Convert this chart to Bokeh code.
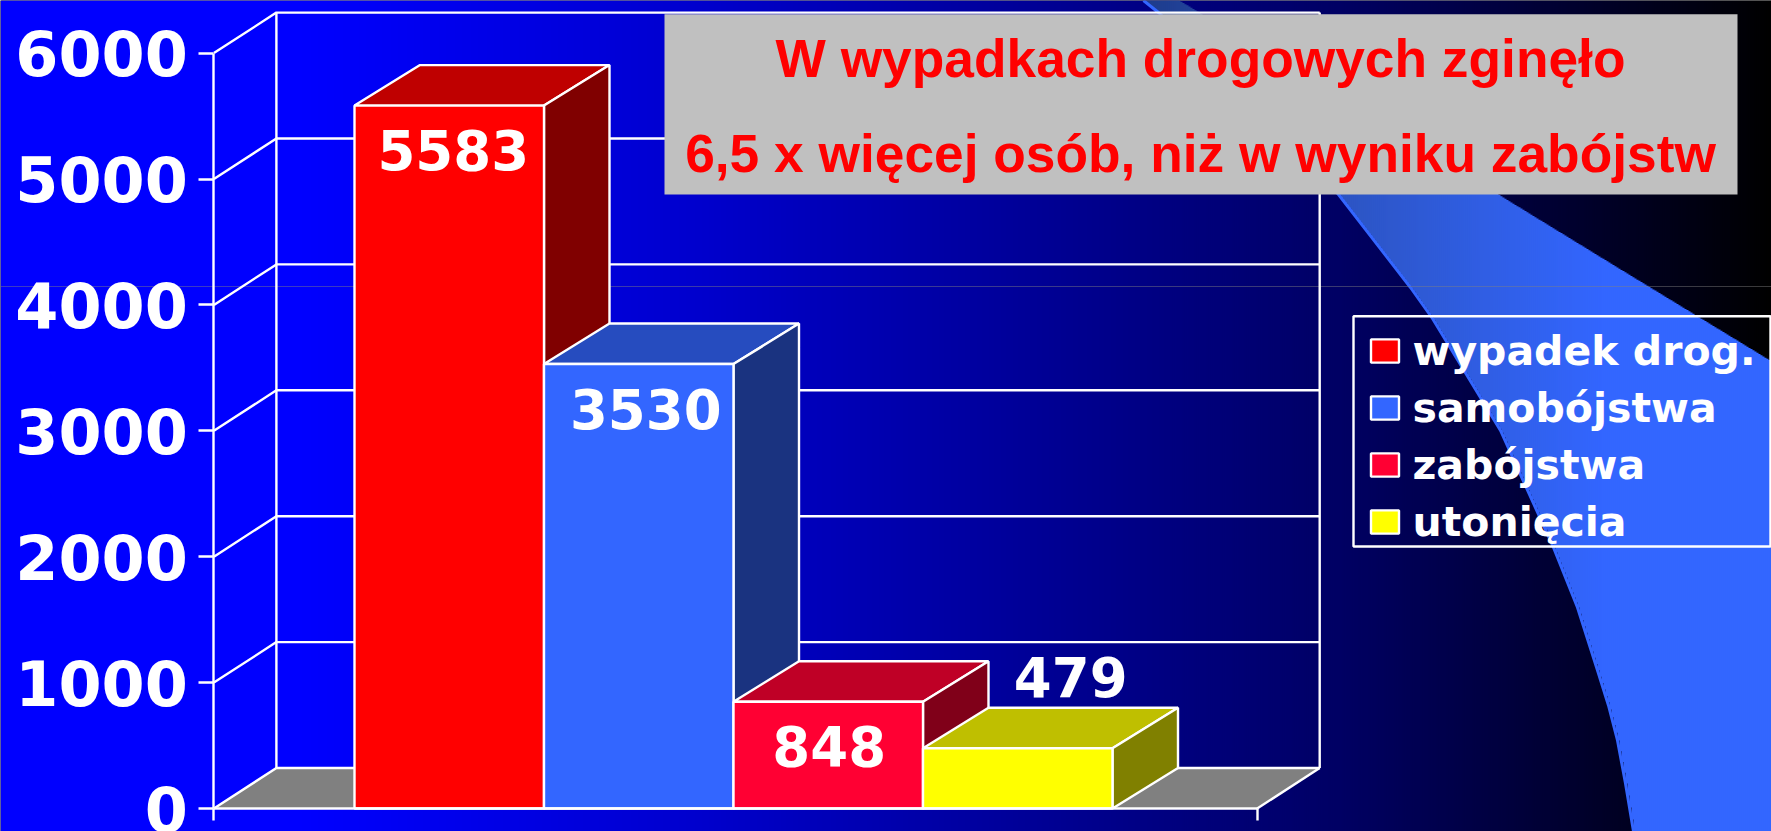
from bokeh.plotting import figure
from bokeh.embed import file_html
from bokeh.resources import INLINE
from bokeh.models import Range1d, FixedTicker, Legend, LegendItem, ColumnDataSource
from bokeh.core.properties import value
import numpy as np

# ---- data
categories = ["wypadek drog.", "samobójstwa", "zabójstwa", "utonięcia"]
deaths = [5583, 3530, 848, 479]
y_ticks = [0, 1000, 2000, 3000, 4000, 5000, 6000]
title_lines = ["W wypadkach drogowych zginęło", "6,5 x więcej osób, niż w wyniku zabójstw"]

front_colors = ["#FF0000", "#3366FF", "#FF0033", "#FFFF00"]
top_colors = ["#BF0000", "#264CBF", "#BF0026", "#BFBF00"]
side_colors = ["#800000", "#1A3380", "#800019", "#808000"]

# ---- page geometry (picture pixels)
PAGE_W, PAGE_H = 1771, 831
FIG_W, FIG_H = PAGE_W, PAGE_H
X0_PX, BAR_PX = 354.0, 189.5          # left of first bar, width of one bar
Y0_PX, UNIT_PX = 808.0, 0.1259        # baseline and pixels per death
DEPTH_X = 65.5 / BAR_PX               # 3-D depth of the bars, in axis units
WALL_X = 62.5 / BAR_PX                # 3-D depth of the walls
DEPTH_Y = 40.5 / UNIT_PX

AX_L = (213.4 - X0_PX) / BAR_PX
AX_R = (1256.7 - X0_PX) / BAR_PX

x_range = Range1d(-X0_PX / BAR_PX, (PAGE_W - X0_PX) / BAR_PX)
y_range = Range1d((Y0_PX - FIG_H) / UNIT_PX, Y0_PX / UNIT_PX)

p = figure(width=FIG_W, height=FIG_H, output_backend="svg", toolbar_location=None,
           x_range=x_range, y_range=y_range, min_border=0,
           background_fill_color="#000000", border_fill_color="#000000")
p.grid.visible = False
p.outline_line_color = None
p.extra_x_ranges["px"] = Range1d(0, PAGE_W)
p.extra_y_ranges["px"] = Range1d(FIG_H, 0)
PX = dict(x_range_name="px", y_range_name="px")

# ---- slide background: horizontal blue -> black gradient
STEP = 2
bg_x = np.arange(0, PAGE_W + STEP, STEP)
bg_blue = np.interp(bg_x, [0, 300, 700, 1340, 1600, 1771], [255, 255, 205, 100, 40, 0]).astype(int)
p.quad(left=bg_x, right=bg_x + STEP + 1, top=0, bottom=PAGE_H + 10,
       fill_color=[f"#0000{b:02X}" for b in bg_blue], line_color=None, **PX)

# ---- swoosh decoration
edge_lx = [1143, 1158, 1250, 1338, 1410, 1432, 1500, 1553, 1577, 1598, 1608, 1617, 1625, 1633, 1771]
edge_ly = [0, 12, 100, 194, 287, 318, 430, 547, 607, 673, 705, 740, 783, 831, 1500]
edge_rx = [1177, 1496, 1620, 1771]
edge_ry = [0, 194, 270, 362]
sw_x = np.arange(1143, PAGE_W, STEP)
sw_top = np.interp(sw_x, edge_rx, edge_ry)
sw_bot = np.interp(sw_x, edge_lx, edge_ly)
sw_r = np.interp(sw_x, [1143, 1340, 1600, 1771], [30, 45, 51, 51]).astype(int)
sw_g = np.interp(sw_x, [1143, 1340, 1600, 1771], [60, 85, 102, 102]).astype(int)
sw_b = np.interp(sw_x, [1143, 1340, 1600, 1771], [140, 195, 255, 255]).astype(int)
p.quad(left=sw_x, right=sw_x + STEP + 1, top=sw_top, bottom=sw_bot,
       fill_color=[f"#{r:02X}{g:02X}{b:02X}" for r, g, b in zip(sw_r, sw_g, sw_b)],
       line_color=None, **PX)
p.line(edge_lx[:-1], edge_ly[:-1], line_color="#3366FF", line_width=3, **PX)
# faint slide rule
p.line([0, PAGE_W], [286, 286], line_color="#808080", line_alpha=0.45, line_width=1, **PX)

# ---- 3-D walls
LW = 2.4
p.patch([AX_L, AX_L + WALL_X, AX_R + WALL_X, AX_R], [0, DEPTH_Y, DEPTH_Y, 0],
        fill_color="#808080", line_color=None)
grid_xs, grid_ys = [], []
for t in y_ticks:
    grid_xs.append([AX_L, AX_L + WALL_X, AX_R + WALL_X])
    grid_ys.append([t, t + DEPTH_Y, t + DEPTH_Y])
top_wall = y_ticks[-1] + DEPTH_Y
grid_xs += [[AX_L + WALL_X] * 2, [AX_R + WALL_X] * 2, [AX_R, AX_R + WALL_X]]
grid_ys += [[DEPTH_Y, top_wall], [DEPTH_Y, top_wall], [0, DEPTH_Y]]
p.multi_line(grid_xs, grid_ys, line_color="#FFFFFF", line_width=LW)

# ---- bars
front_renderers = []
for i, v in enumerate(deaths):
    p.patch([i, i + DEPTH_X, i + 1 + DEPTH_X, i + 1], [v, v + DEPTH_Y, v + DEPTH_Y, v],
            fill_color=top_colors[i], line_color="#FFFFFF", line_width=LW)
    p.patch([i + 1, i + 1 + DEPTH_X, i + 1 + DEPTH_X, i + 1], [0, DEPTH_Y, v + DEPTH_Y, v],
            fill_color=side_colors[i], line_color="#FFFFFF", line_width=LW)
    r = p.quad(left=[i], right=[i + 1], bottom=[0], top=[v],
               fill_color=front_colors[i], line_color="#FFFFFF", line_width=LW)
    front_renderers.append(r)

# ---- value labels
lab = ColumnDataSource(dict(
    x=[i + 0.5 for i in range(len(deaths))], y=deaths, t=[str(v) for v in deaths],
    dx=[4, 7, 1, 53], dy=[44, 45, 44, -71]))
p.text("x", "y", text="t", source=lab, x_offset="dx", y_offset="dy",
       text_font=value("DejaVu Sans"), text_font_style="bold", text_font_size="54.5px",
       text_color="#FFFFFF", text_align="center", text_baseline="middle")

# ---- axes
ya = p.yaxis[0]
ya.fixed_location = AX_L
ya.bounds = (y_ticks[0], y_ticks[-1])
ya.ticker = FixedTicker(ticks=y_ticks)
ya.axis_line_color = "#FFFFFF"
ya.axis_line_width = LW
ya.major_tick_line_color = "#FFFFFF"
ya.major_tick_line_width = LW
ya.major_tick_in = 0
ya.major_tick_out = 15
ya.minor_tick_line_color = None
ya.major_label_standoff = 11
ya.major_label_text_color = "#FFFFFF"
ya.major_label_text_font = "DejaVu Sans"
ya.major_label_text_font_style = "bold"
ya.major_label_text_font_size = "62px"

xa = p.xaxis[0]
xa.fixed_location = 0
xa.bounds = (AX_L, AX_R)
xa.ticker = FixedTicker(ticks=[AX_L, AX_R])
xa.axis_line_color = "#FFFFFF"
xa.axis_line_width = LW
xa.major_tick_line_color = "#FFFFFF"
xa.major_tick_line_width = LW
xa.major_tick_in = 0
xa.major_tick_out = 12
xa.minor_tick_line_color = None
xa.major_label_text_font_size = "0px"
xa.major_label_text_color = None

# ---- title box
p.quad(left=[664], right=[1737], top=[13.7], bottom=[194], fill_color="#C0C0C0", line_color=None, **PX)
p.text([1200, 1200], [58, 153], text=title_lines,
       text_font=value("Liberation Sans"), text_font_style="bold", text_font_size="53.3px",
       text_color="#FF0000", text_align="center", text_baseline="alphabetic", **PX)

# ---- legend: outline drawn apart so the rows can sit as in the slide
p.quad(left=[1353], right=[1770], top=[315.7], bottom=[546], fill_color=None,
       line_color="#FFFFFF", line_width=LW, **PX)
legend = Legend(items=[LegendItem(label=c, renderers=[r]) for c, r in zip(categories, front_renderers)],
                location=(1366.5, FIG_H - 545.5), orientation="vertical", margin=0,
                padding=0, spacing=9, glyph_width=35, glyph_height=29, label_standoff=11,
                label_height=43, label_text_font="DejaVu Sans", label_text_font_style="bold",
                label_text_font_size="41px", label_text_color="#FFFFFF",
                background_fill_alpha=0, border_line_color=None)
p.add_layout(legend)

open("out.html", "w").write(file_html(p, INLINE))
